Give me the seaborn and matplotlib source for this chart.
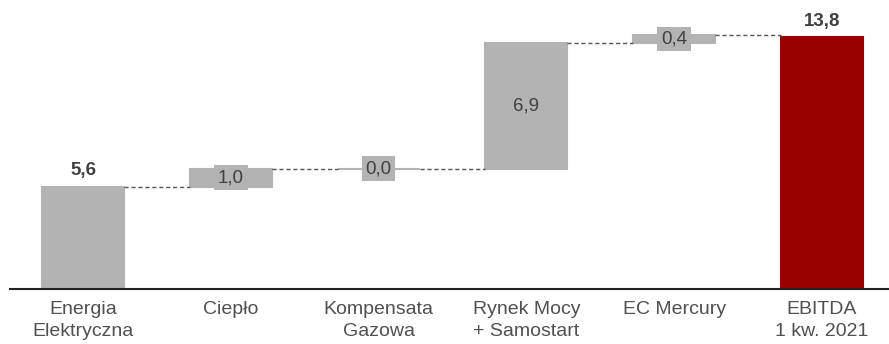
import numpy as np
import pandas as pd
import matplotlib
matplotlib.use("Agg")
import matplotlib.pyplot as plt
import seaborn as sns

# Waterfall components of EBITDA (PLN m), Q1 2021
categories = ["Energia\nElektryczna", "Ciepło", "Kompensata\nGazowa",
              "Rynek Mocy\n+ Samostart", "EC Mercury", "EBITDA\n1 kw. 2021"]
values = [5.6, 1.0, 0.0, 6.9, 0.4, 13.8]
labels = ["5,6", "1,0", "0,0", "6,9", "0,4", "13,8"]
kinds = ["total", "delta", "delta", "delta", "delta", "total"]

GREY = "#B3B3B3"
RED = "#990000"
TEXT = "#404040"

# bottoms: first and last bars start at zero, deltas stack on the running sum
bottoms = []
running = 0.0
for v, k in zip(values, kinds):
    if k == "total":
        bottoms.append(0.0)
        running = v
    else:
        bottoms.append(running)
        running += v
ends = [b + v for b, v in zip(bottoms, values)]

df = pd.DataFrame({"category": categories, "value": values, "bottom": bottoms})

sns.set_theme(style="white")
plt.rcParams["font.family"] = ["Liberation Sans", "DejaVu Sans"]

fig = plt.figure(figsize=(8.89, 3.44), dpi=100)
ax = fig.add_axes([10 / 889, 55 / 344, 879 / 889, 289 / 344])

width = 0.555
sns.barplot(data=df, x="category", y="value", bottom=df["bottom"].values,
            color=GREY, width=width, saturation=1, ax=ax, errorbar=None)

colors = [GREY, GREY, GREY, GREY, GREY, RED]
for p, c in zip(ax.patches, colors):
    p.set_facecolor(c)
    p.set_edgecolor(c)
    p.set_linewidth(1.5)

# dashed connectors between consecutive bars
for i in range(len(values) - 1):
    ax.plot([i + width / 2, i + 1 - width / 2], [ends[i], ends[i]],
            ls=(0, (3, 2)), color="#555555", lw=1.0, zorder=1)

# value labels
for i, (v, b, k, lab) in enumerate(zip(values, bottoms, kinds, labels)):
    if k == "total":
        ax.text(i, b + v + 0.4, lab, ha="center", va="bottom",
                fontsize=13.5, fontweight="bold", color=TEXT)
    else:
        ax.text(i, b + v / 2, lab, ha="center", va="center",
                fontsize=13.5, color=TEXT, zorder=5,
                bbox=dict(boxstyle="square,pad=0.2", fc=GREY, ec="none"))

ax.set_xlim(-0.494, 5.453)
ax.set_ylim(0, 15.83)
ax.set_xlabel("")
ax.set_ylabel("")
ax.set_yticks([])
for s in ["top", "right", "left"]:
    ax.spines[s].set_visible(False)
ax.spines["bottom"].set_color("#222222")
ax.spines["bottom"].set_linewidth(1.5)
ax.tick_params(axis="x", length=0, pad=9, labelsize=14, labelcolor="#505050")
for t in ax.get_xticklabels():
    t.set_linespacing(1.35)

fig.savefig("out.png", dpi=100)
